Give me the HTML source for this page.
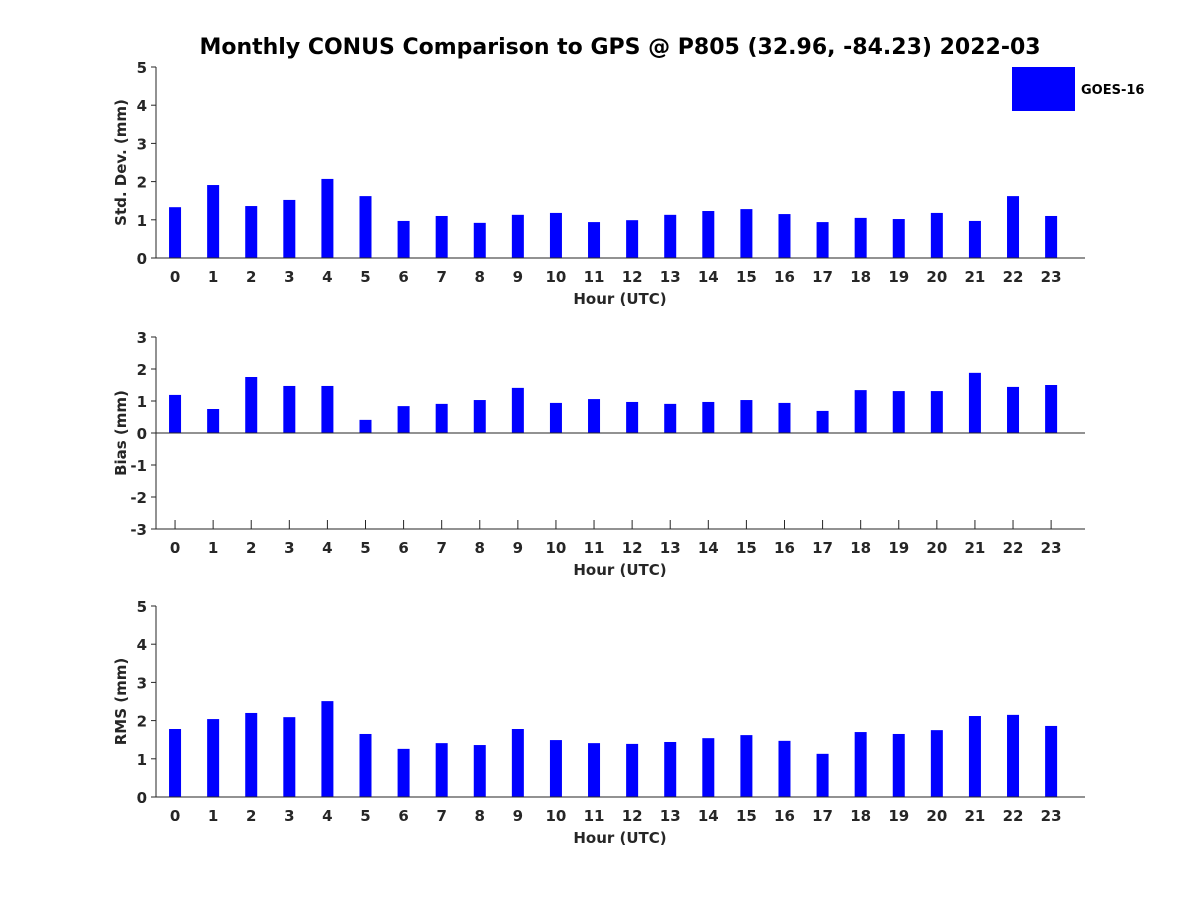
<!DOCTYPE html>
<html><head><meta charset="utf-8"><style>
body{margin:0;background:#fff;}
svg text{font-family:"DejaVu Sans","Liberation Sans",sans-serif;font-weight:bold;fill:#262626;}
</style></head><body>
<svg id="c" width="1200" height="900" xmlns="http://www.w3.org/2000/svg">
<text x="620" y="54" text-anchor="middle" font-size="22" style="fill:#000">Monthly CONUS Comparison to GPS @ P805 (32.96, -84.23) 2022-03</text>
<rect x="1012" y="67" width="63" height="44" fill="#0000ff"/>
<text x="1081" y="94" font-size="13" style="fill:#000">GOES-16</text>
</svg>
<script>
const hours=[0,1,2,3,4,5,6,7,8,9,10,11,12,13,14,15,16,17,18,19,20,21,22,23];
const stdDev=[1.33,1.91,1.36,1.52,2.07,1.62,0.97,1.1,0.92,1.13,1.18,0.94,0.99,1.13,1.23,1.28,1.15,0.94,1.05,1.02,1.18,0.97,1.62,1.1];
const bias=[1.19,0.75,1.75,1.47,1.47,0.41,0.84,0.91,1.03,1.41,0.94,1.06,0.97,0.91,0.97,1.03,0.94,0.69,1.34,1.31,1.31,1.88,1.44,1.5];
const rms=[1.78,2.04,2.2,2.09,2.51,1.65,1.26,1.41,1.36,1.78,1.49,1.41,1.39,1.44,1.54,1.62,1.47,1.13,1.7,1.65,1.75,2.12,2.15,1.86];
const stdTicks=[0,1,2,3,4,5];
const biasTicks=[-3,-2,-1,0,1,2,3];
const rmsTicks=[0,1,2,3,4,5];
const svg=document.getElementById('c');
const NS='http://www.w3.org/2000/svg';
function mk(t,a,p){const e=document.createElementNS(NS,t);for(const k in a)e.setAttribute(k,a[k]);(p||svg).appendChild(e);return e;}
const L=156,R=1085,XMIN=-0.5,UNIT=38.09;
const xs=h=>L+(h-XMIN)*UNIT;
function panel(name,vals,ticks,ymin,ymax,top,bot,label){
  const g=mk('g',{});
  
  
  const ys=v=>bot-(v-ymin)/(ymax-ymin)*(bot-top);
  hours.forEach(h=>{
    const x=xs(h);
    mk('line',{x1:x,y1:bot,x2:x,y2:bot-9,stroke:'#262626'},g);
    const tx=mk('text',{x:x,y:bot+24,'text-anchor':'middle','font-size':15},g);
    tx.textContent=h;
    
    
  });
  vals.forEach((v,i)=>{
    const y0=ys(0),y1=ys(v);
    const r=mk('rect',{x:xs(hours[i])-6,y:Math.min(y0,y1),width:12,height:Math.abs(y0-y1),fill:'#0000ff'},g);
    
    
  });
  mk('line',{x1:L,y1:top,x2:L,y2:bot,stroke:'#262626','stroke-width':1},g);
  mk('line',{x1:L,y1:bot,x2:R,y2:bot,stroke:'#262626','stroke-width':1},g);
  if(ymin<0) mk('line',{x1:L,y1:ys(0),x2:R,y2:ys(0),stroke:'#262626','stroke-width':1},g);
  ticks.forEach(t=>{
    const y=ys(t);
    mk('line',{x1:L-5,y1:y,x2:L,y2:y,stroke:'#262626'},g);
    const tx=mk('text',{x:L-9,y:y+6,'text-anchor':'end','font-size':15},g);
    tx.textContent=t;
    
    
  });
  const xl=mk('text',{x:620,y:bot+46,'text-anchor':'middle','font-size':15},g);
  xl.textContent='Hour (UTC)';
  
  
  const cy=(top+bot)/2;
  const yl=mk('text',{x:126,y:cy,'text-anchor':'middle','font-size':15,transform:'rotate(-90 126 '+cy+')'},g);
  yl.textContent=label;
  
  
}
panel('std-dev',stdDev,stdTicks,0,5,67,258,'Std. Dev. (mm)');
panel('bias',bias,biasTicks,-3,3,337,529,'Bias (mm)');
panel('rms',rms,rmsTicks,0,5,606,797,'RMS (mm)');
</script>
</body></html>
